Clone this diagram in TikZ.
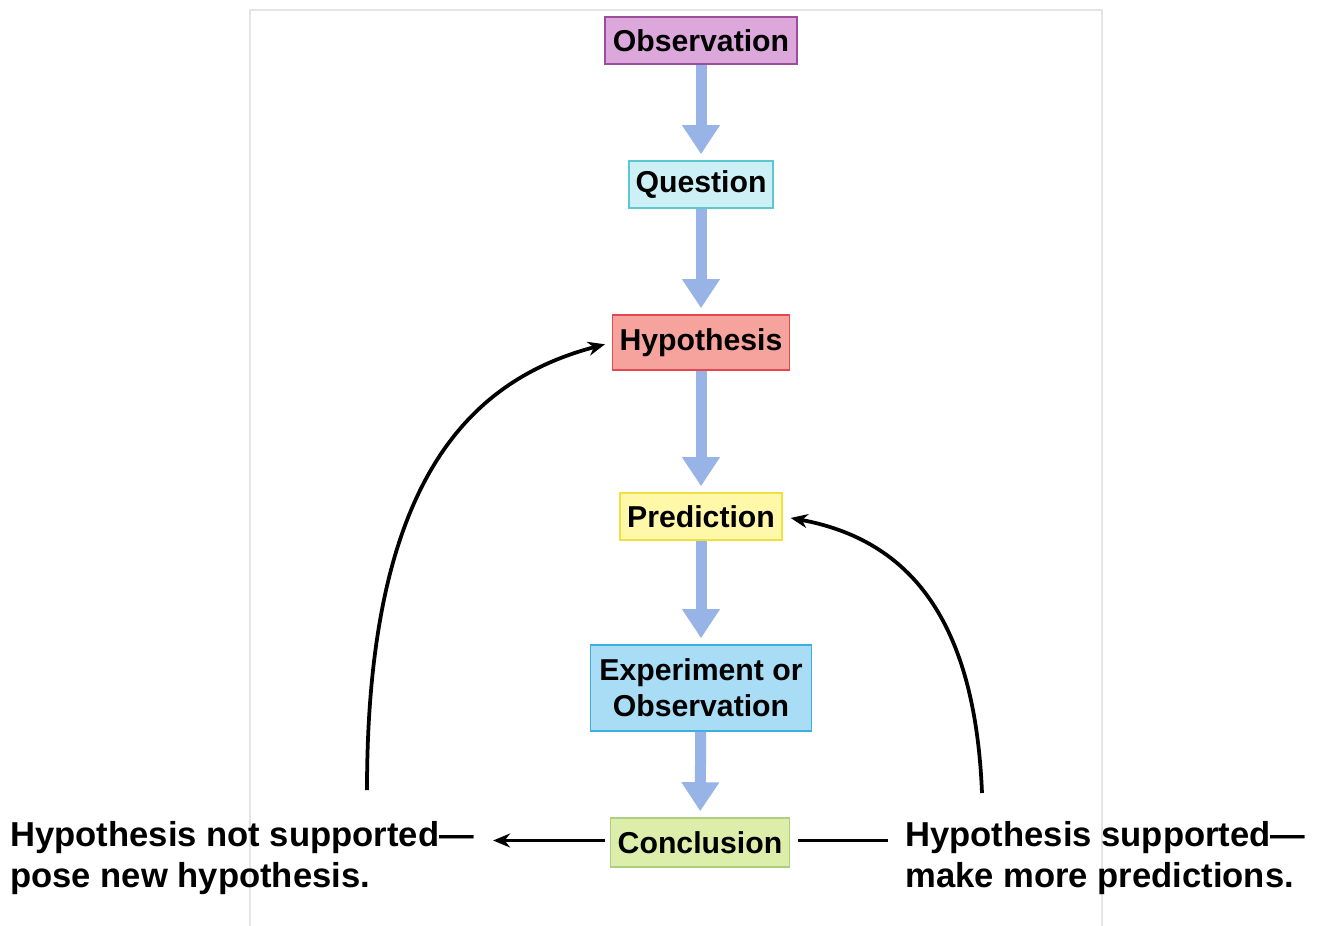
\documentclass[tikz,border=0pt]{standalone}
\usepackage{fontspec}
\setmainfont{Liberation Sans}
\usepackage{tikz}
\usetikzlibrary{arrows.meta,positioning,calc}
\definecolor{flowBlue}{HTML}{98B4E6}
\definecolor{obsLine}{HTML}{9B4F9B}\definecolor{obsFill}{HTML}{DCA8DC}
\definecolor{queLine}{HTML}{5BC8CF}\definecolor{queFill}{HTML}{CCF0F5}
\definecolor{hypLine}{HTML}{E34850}\definecolor{hypFill}{HTML}{F5A39C}
\definecolor{preLine}{HTML}{EEE040}\definecolor{preFill}{HTML}{FFF8A8}
\definecolor{expLine}{HTML}{3DAEE0}\definecolor{expFill}{HTML}{A9DCF5}
\definecolor{conLine}{HTML}{ADD080}\definecolor{conFill}{HTML}{DDEEAA}

\begin{document}
\begin{tikzpicture}[x=0.02cm, y=-0.02cm,
  stage/.style 2 args={draw=#1, fill=#2, line width=0.9pt, inner sep=0pt, align=center, font=\bfseries\fontsize{17.2}{20.5}\selectfont},
  flow/.style={-{Triangle[width=0.72cm,length=0.58cm]}, line width=0.22cm, flowBlue, shorten >=0.12cm},
  note/.style={inner sep=0pt, align=left, anchor=base west, font=\bfseries\fontsize{19.7}{23.3}\selectfont},
  back/.style={-{Stealth[length=0.34cm,width=0.28cm]}, line width=0.075cm}]
  \useasboundingbox (0,0) rectangle (1320,926);
  \draw[black!10, line width=0.6pt] (250,926) -- (250,10) -- (1102,10) -- (1102,926);
  \node[stage={obsLine}{obsFill}, minimum width=3.84cm, minimum height=0.94cm] (obs) at (701,40.5) {Observation};
  \node[stage={queLine}{queFill}, minimum width=2.88cm, minimum height=0.94cm] (que) at (701,184.5) {Question};
  \node[stage={hypLine}{hypFill}, minimum width=3.54cm, minimum height=1.10cm] (hyp) at (701,342.5) {Hypothesis};
  \node[stage={preLine}{preFill}, minimum width=3.24cm, minimum height=0.94cm] (pre) at (701,516.5) {Prediction};
  \node[stage={expLine}{expFill}, minimum width=4.42cm, minimum height=1.72cm] (exp) at (701,688) {Experiment or\\Observation};
  \node[stage={conLine}{conFill}, minimum width=3.58cm, minimum height=0.98cm] (con) at (700,842.5) {Conclusion};
  \node[note] (notsup) at (10,887) {Hypothesis not supported---\\pose new hypothesis.};
  \node[note] (sup) at (905,887) {Hypothesis supported---\\make more predictions.};
  \coordinate (notsupStart) at (367,790);
  \coordinate (supStart) at (982,793);
  \draw[flow] (obs) -- (que);
  \draw[flow] (que) -- (hyp);
  \draw[flow] (hyp) -- (pre);
  \draw[flow] (pre) -- (exp);
  \draw[flow] (exp) -- (con);
  \draw[back, shorten <=0.1cm, shorten >=0.38cm] ($(con.west)+(0,-2)$) -- ($(con.west -| notsup.east)+(0,-2)$);
  \draw[line width=0.075cm, shorten <=0.16cm, shorten >=0.34cm] ($(con.east)+(0,-2)$) -- ($(con.east -| sup.west)+(0,-2)$);
  \draw[back, shorten >=0.14cm] (notsupStart) .. controls (367,480) and (470,380) .. (hyp.west);
  \draw[back, shorten >=0.16cm] (supStart) .. controls (975,620) and (910,540) .. (pre.east);
\end{tikzpicture}
\end{document}
